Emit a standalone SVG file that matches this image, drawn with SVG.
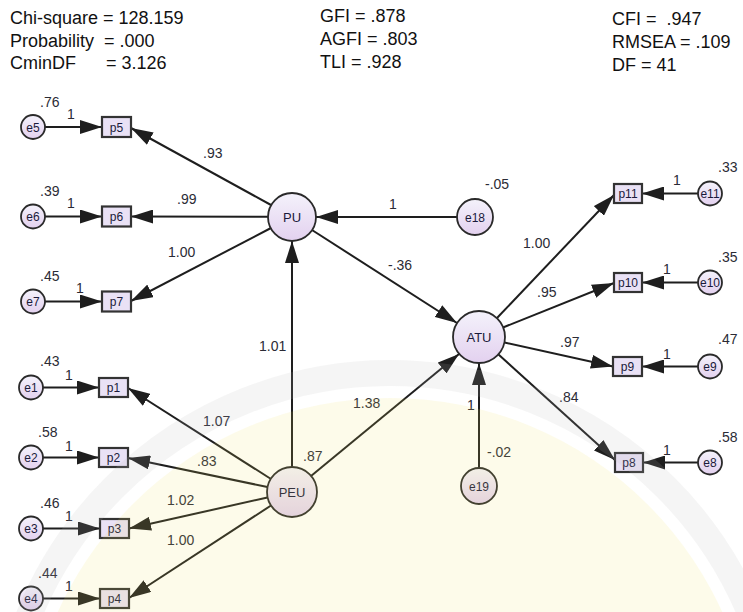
<svg xmlns="http://www.w3.org/2000/svg" width="743" height="612" viewBox="0 0 743 612">
<defs>
<style>
.hdr{font-family:"Liberation Sans",Arial,sans-serif;font-size:18px;fill:#111;white-space:pre;}
.num{font-family:"Liberation Sans",Arial,sans-serif;font-size:14px;fill:#2b2b35;}
.lbl{font-family:"Liberation Sans",Arial,sans-serif;font-size:12px;fill:#1a1a3a;text-anchor:middle;}
.big{font-family:"Liberation Sans",Arial,sans-serif;font-size:13px;fill:#1a1a3a;text-anchor:middle;}
.circ{fill:url(#g);stroke:#2a2a2a;stroke-width:1.8;}
.box{fill:#e9e1f5;stroke:#333;stroke-width:2.2;}
.con line{stroke:#1e1e1e;stroke-width:2;marker-end:url(#ah);}
</style>
<linearGradient id="g" x1="0" y1="0" x2="0" y2="1">
<stop offset="0" stop-color="#f4f2fb"/>
<stop offset="1" stop-color="#e3d1ef"/>
</linearGradient>
<marker id="ah" markerWidth="22" markerHeight="14" refX="22" refY="7" orient="auto" markerUnits="userSpaceOnUse">
<path d="M0,0 L22,7 L0,14 z" fill="#1e1e1e"/>
</marker>
</defs>
<rect width="743" height="612" fill="#ffffff"/>

<g id="header">
<text class="hdr" x="10" y="24" xml:space="preserve">Chi-square = 128.159</text>
<text class="hdr" x="10" y="47" xml:space="preserve">Probability  = .000</text>
<text class="hdr" x="10" y="69" xml:space="preserve">CminDF      = 3.126</text>
<text class="hdr" x="320" y="22" xml:space="preserve">GFI = .878</text>
<text class="hdr" x="320" y="45" xml:space="preserve">AGFI = .803</text>
<text class="hdr" x="320" y="68" xml:space="preserve">TLI = .928</text>
<text class="hdr" x="612" y="25" xml:space="preserve">CFI =  .947</text>
<text class="hdr" x="612" y="48" xml:space="preserve">RMSEA = .109</text>
<text class="hdr" x="612" y="71" xml:space="preserve">DF = 41</text>
</g>

<g id="connectors" class="con">
<line x1="45" y1="127" x2="102" y2="127"/>
<line x1="45" y1="216.5" x2="102" y2="216.5"/>
<line x1="45" y1="301.5" x2="102" y2="301.5"/>
<line x1="43" y1="387.5" x2="99" y2="387.5"/>
<line x1="43" y1="457.5" x2="99" y2="457.5"/>
<line x1="43" y1="528.5" x2="100" y2="528.5"/>
<line x1="43" y1="598.5" x2="100" y2="598.5"/>
<line x1="698" y1="193.5" x2="642" y2="193.5"/>
<line x1="698" y1="282.5" x2="642" y2="282.5"/>
<line x1="698" y1="366.5" x2="642" y2="366.5"/>
<line x1="698" y1="462.5" x2="643" y2="462.5"/>
<line x1="271" y1="205" x2="131" y2="128"/>
<line x1="268" y1="216.8" x2="131" y2="216.5"/>
<line x1="271" y1="228" x2="131" y2="301"/>
<line x1="457" y1="217" x2="316" y2="217"/>
<line x1="312" y1="230" x2="457" y2="323"/>
<line x1="292" y1="467" x2="292" y2="241"/>
<line x1="311" y1="476" x2="459" y2="354"/>
<line x1="479" y1="468" x2="479" y2="363"/>
<line x1="271" y1="479" x2="128" y2="388"/>
<line x1="267.5" y1="487" x2="128" y2="458"/>
<line x1="267.5" y1="497.5" x2="129" y2="528.5"/>
<line x1="271" y1="505.5" x2="129" y2="598"/>
<line x1="497" y1="318" x2="614" y2="195"/>
<line x1="503" y1="327.5" x2="614" y2="283"/>
<line x1="504.5" y1="342.5" x2="613" y2="366.5"/>
<line x1="498.5" y1="354.5" x2="615" y2="460"/>
</g>

<g id="e5"><circle class="circ" cx="33" cy="127" r="12"/><text class="lbl" x="33" y="131.5">e5</text></g>
<g id="e6"><circle class="circ" cx="33" cy="216.5" r="12"/><text class="lbl" x="33" y="221">e6</text></g>
<g id="e7"><circle class="circ" cx="33" cy="301.5" r="12"/><text class="lbl" x="33" y="306">e7</text></g>
<g id="e1"><circle class="circ" cx="31" cy="387.5" r="12"/><text class="lbl" x="31" y="392">e1</text></g>
<g id="e2"><circle class="circ" cx="31" cy="457.5" r="12"/><text class="lbl" x="31" y="462">e2</text></g>
<g id="e3"><circle class="circ" cx="31" cy="528.5" r="12"/><text class="lbl" x="31" y="533">e3</text></g>
<g id="e4"><circle class="circ" cx="31" cy="598.5" r="12"/><text class="lbl" x="31" y="603">e4</text></g>

<g id="p5"><rect class="box" x="102" y="117" width="29" height="20"/><text class="lbl" x="116.5" y="131.5">p5</text></g>
<g id="p6"><rect class="box" x="102" y="206.5" width="29" height="20"/><text class="lbl" x="116.5" y="221">p6</text></g>
<g id="p7"><rect class="box" x="102" y="291.5" width="29" height="20"/><text class="lbl" x="116.5" y="306">p7</text></g>
<g id="p1"><rect class="box" x="99" y="378" width="29" height="19"/><text class="lbl" x="113.5" y="392">p1</text></g>
<g id="p2"><rect class="box" x="99" y="448" width="29" height="19"/><text class="lbl" x="113.5" y="462">p2</text></g>
<g id="p3"><rect class="box" x="100" y="519" width="29" height="19"/><text class="lbl" x="114.5" y="533">p3</text></g>
<g id="p4"><rect class="box" x="100" y="589" width="29" height="19"/><text class="lbl" x="114.5" y="603">p4</text></g>

<g id="PU"><circle class="circ" cx="292" cy="217" r="24"/><text class="big" x="292" y="221.5">PU</text></g>
<g id="e18"><circle class="circ" cx="475" cy="217" r="18"/><text class="lbl" x="475" y="221.5">e18</text></g>
<g id="ATU"><circle class="circ" cx="479" cy="337" r="26"/><text class="big" x="479" y="341.5">ATU</text></g>
<g id="PEU"><circle class="circ" cx="292" cy="492" r="25"/><text class="big" x="292" y="496.5">PEU</text></g>
<g id="e19"><circle class="circ" cx="479" cy="486" r="18"/><text class="lbl" x="479" y="490.5">e19</text></g>

<g id="p11"><rect class="box" x="614" y="184" width="28" height="19"/><text class="lbl" x="628" y="198">p11</text></g>
<g id="p10"><rect class="box" x="614" y="273" width="28" height="19"/><text class="lbl" x="628" y="287">p10</text></g>
<g id="p9"><rect class="box" x="613" y="357" width="29" height="19"/><text class="lbl" x="627.5" y="371">p9</text></g>
<g id="p8"><rect class="box" x="615" y="453" width="28" height="19"/><text class="lbl" x="629" y="467">p8</text></g>
<g id="e11"><circle class="circ" cx="710" cy="193.5" r="12"/><text class="lbl" x="710" y="198">e11</text></g>
<g id="e10"><circle class="circ" cx="710" cy="282.5" r="12"/><text class="lbl" x="710" y="287">e10</text></g>
<g id="e9"><circle class="circ" cx="710" cy="366.5" r="12"/><text class="lbl" x="710" y="371">e9</text></g>
<g id="e8"><circle class="circ" cx="710" cy="462.5" r="12"/><text class="lbl" x="710" y="467">e8</text></g>

<g id="labels">
<text class="num" x="40" y="107">.76</text>
<text class="num" x="67" y="119">1</text>
<text class="num" x="40" y="196">.39</text>
<text class="num" x="67" y="208">1</text>
<text class="num" x="40" y="281">.45</text>
<text class="num" x="76" y="293">1</text>
<text class="num" x="40" y="366">.43</text>
<text class="num" x="65" y="380">1</text>
<text class="num" x="38" y="437">.58</text>
<text class="num" x="65" y="451">1</text>
<text class="num" x="40" y="508">.46</text>
<text class="num" x="65" y="521">1</text>
<text class="num" x="38" y="578">.44</text>
<text class="num" x="65" y="591">1</text>
<text class="num" x="203" y="158">.93</text>
<text class="num" x="177" y="204">.99</text>
<text class="num" x="168" y="257">1.00</text>
<text class="num" x="203" y="426">1.07</text>
<text class="num" x="197" y="466">.83</text>
<text class="num" x="167" y="505">1.02</text>
<text class="num" x="167" y="545">1.00</text>
<text class="num" x="303" y="461">.87</text>
<text class="num" x="389" y="209">1</text>
<text class="num" x="485" y="189">-.05</text>
<text class="num" x="388" y="270">-.36</text>
<text class="num" x="259" y="351">1.01</text>
<text class="num" x="353" y="408">1.38</text>
<text class="num" x="467" y="410">1</text>
<text class="num" x="487" y="457">-.02</text>
<text class="num" x="523" y="248">1.00</text>
<text class="num" x="537" y="297">.95</text>
<text class="num" x="560" y="347">.97</text>
<text class="num" x="559" y="402">.84</text>
<text class="num" x="718" y="172">.33</text>
<text class="num" x="673" y="185">1</text>
<text class="num" x="718" y="262">.35</text>
<text class="num" x="663" y="274">1</text>
<text class="num" x="718" y="344">.47</text>
<text class="num" x="663" y="359">1</text>
<text class="num" x="718" y="442">.58</text>
<text class="num" x="663" y="455">1</text>
</g>

<g id="watermark" pointer-events="none">
<circle cx="390" cy="763" r="365" fill="#f2e25a" opacity="0.13"/>
<circle cx="390" cy="763" r="390" fill="none" stroke="#b8b8b8" stroke-width="26" opacity="0.14"/>
</g>
</svg>
